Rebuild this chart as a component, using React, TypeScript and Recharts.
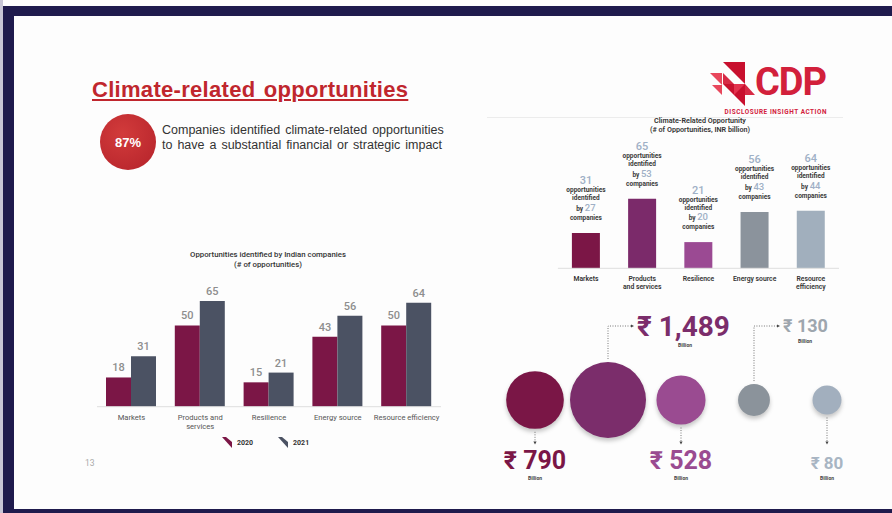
import React from 'react';
import {
  BarChart,
  Bar,
  XAxis,
  YAxis,
  LabelList,
  Cell,
  Legend,
  ScatterChart,
  Scatter,
  ZAxis,
} from 'recharts';

// ---------- data ----------
const categories = ['Markets', 'Products and services', 'Resilience', 'Energy source', 'Resource efficiency'];
const opportunities2020 = [18, 50, 15, 43, 50];
const opportunities2021 = [31, 65, 21, 56, 64];
const companies2021 = [27, 53, 20, 43, 44];
const valueINRBillion = [790, 1489, 528, 130, 80];
const seriesNames = ['2020', '2021'];
const leftTickLabels = [['Markets'], ['Products and', 'services'], ['Resilience'], ['Energy source'], ['Resource efficiency']];
const rightTickLabels = [['Markets'], ['Products', 'and services'], ['Resilience'], ['Energy source'], ['Resource', 'efficiency']];

// ---------- styles ----------
const FONT = 'Roboto, "Noto Sans", sans-serif';
const NAVY = '#1f1b4d';
const seriesColors = ['#7b1646', '#4b5263'];
const rightBarColors = ['#7b1646', '#7b2a6a', '#9b4a93', '#8b939c', '#a1afbd'];
const bubbleColors = ['#7a1646', '#7b2d6b', '#9a4b91', '#8b939b', '#a2afbe'];
const bubbleTextColors = ['#7a1646', '#7b2d6b', '#9a4b91', '#9ea6ae', '#a8b5c3'];
const bubbleLabelSide = ['below', 'above', 'below', 'above', 'below'];
const bubbleLabelFont = [25, 28, 25, 18, 17];

const leftData = categories.map((c, i) => ({ name: c, y2020: opportunities2020[i], y2021: opportunities2021[i] }));
const rightData = categories.map((c, i) => ({ name: c, companies: companies2021[i], opportunities: opportunities2021[i] }));
const bubbleData = categories.map((c, i) => ({ name: c, value: valueINRBillion[i] }));

const LeftTick = (props: any) => {
  const { x, y, payload } = props;
  const i = categories.indexOf(payload.value);
  const lines = leftTickLabels[i] || [String(payload.value)];
  return (
    <g>
      {lines.map((l, k) => (
        <text key={k} x={x} y={y + 5 + k * 9} textAnchor="middle" fontSize={7.6} fill="#555" fontFamily={FONT}>
          {l}
        </text>
      ))}
    </g>
  );
};

const RightTick = (props: any) => {
  const { x, y, payload } = props;
  const i = categories.indexOf(payload.value);
  const lines = rightTickLabels[i] || [String(payload.value)];
  return (
    <g>
      {lines.map((l, k) => (
        <text key={k} x={x} y={y + 5 + k * 8} textAnchor="middle" fontSize={6.8} fontWeight={600} fill="#333" fontFamily={FONT}>
          {l}
        </text>
      ))}
    </g>
  );
};

const RightLabel = (props: any) => {
  const vb = props.viewBox || {};
  const x = vb.x ?? props.x;
  const y = vb.y ?? props.y;
  const width = vb.width ?? props.width;
  const i = props.index;
  const cx = x + width / 2;
  const small = { fontSize: 6.5, fontWeight: 700, fill: '#3a3a3a' } as any;
  return (
    <g fontFamily={FONT} textAnchor="middle">
      <text x={cx} y={y - 48.5} fontSize={11} fontWeight={500} fill="#9fb0c6">{opportunities2021[i]}</text>
      <text x={cx} y={y - 40.5} {...small}>opportunities</text>
      <text x={cx} y={y - 32.5} {...small}>identified</text>
      <text x={cx} y={y - 22} {...small}>
        by <tspan fontSize={9.5} fontWeight={500} fill="#9fb0c6">{companies2021[i]}</tspan>
      </text>
      <text x={cx} y={y - 13} {...small}>companies</text>
    </g>
  );
};

const LeftLegend = (props: any) => {
  const payload = props.payload || [];
  return (
    <div style={{ display: 'flex', alignItems: 'center', fontFamily: FONT }}>
      {payload.map((p: any, k: number) => (
        <div key={k} style={{ display: 'flex', alignItems: 'center', marginRight: 25 }}>
          <svg width={10} height={11} style={{ display: 'block' }}>
            <polygon points="0,0 4,0 10,5 10,11" fill={p.color} />
          </svg>
          <span style={{ marginLeft: 5, fontSize: 7, fontWeight: 700, color: '#333' }}>{p.value}</span>
        </div>
      ))}
    </div>
  );
};

const Bubble = (props: any) => {
  const { cx, cy, payload } = props;
  const i = categories.indexOf(payload.name);
  const r = props.width ? props.width / 2 : Math.sqrt((props.size || 100) / Math.PI);
  const fs = bubbleLabelFont[i];
  const label = `₹ ${valueINRBillion[i].toLocaleString('en-IN')}`;
  const dotted = { stroke: '#555', strokeWidth: 0.8, strokeDasharray: '1 1.5', fill: 'none' } as any;
  let ann;
  if (bubbleLabelSide[i] === 'below') {
    ann = (
      <g>
        <line x1={cx} y1={cy + r + 3} x2={cx} y2={cy + 42} {...dotted} />
        <polygon points={`${cx - 1.6},${cy + 41.5} ${cx + 1.6},${cy + 41.5} ${cx},${cy + 44.5}`} fill="#444" />
        <text x={cx} y={cy + 69} textAnchor="middle" fontSize={fs} fontWeight={700} fill={bubbleTextColors[i]} fontFamily={FONT}>
          {label}
        </text>
        <text x={cx} y={cy + 80} textAnchor="middle" fontSize={5} fontWeight={700} fill="#444" fontFamily={FONT}>Billion</text>
      </g>
    );
  } else {
    const ly = cy - 74;
    const tx = cx + 29;
    const w = label.length * fs * 0.49;
    ann = (
      <g>
        <polyline points={`${cx},${cy - r - 3} ${cx},${ly} ${cx + 23},${ly}`} {...dotted} />
        <polygon points={`${cx + 23},${ly - 1.6} ${cx + 23},${ly + 1.6} ${cx + 26},${ly}`} fill="#444" />
        <text x={tx} y={ly + fs * 0.36} textAnchor="start" fontSize={fs} fontWeight={700} fill={bubbleTextColors[i]} fontFamily={FONT}>
          {label}
        </text>
        <text x={tx + w / 2} y={ly + fs * 0.36 + 11} textAnchor="middle" fontSize={5} fontWeight={700} fill="#444" fontFamily={FONT}>Billion</text>
      </g>
    );
  }
  return (
    <g>
      <circle cx={cx} cy={cy} r={r} fill={bubbleColors[i]} style={{ filter: 'drop-shadow(0px 3px 2px rgba(0,0,0,0.22))' }} />
      {ann}
    </g>
  );
};

const abs = (s: any) => ({ position: 'absolute', ...s } as React.CSSProperties);

export default function App() {
  return (
    <div style={abs({ left: 0, top: 0, width: 892, height: 513, background: '#fdfdfd', overflow: 'hidden', fontFamily: FONT })}>
      {/* frame */}
      <div style={abs({ left: 0, top: 0, width: 3, height: 513, background: '#c8c6d6' })} />
      <div style={abs({ left: 3, top: 6, width: 889, height: 10, background: NAVY })} />
      <div style={abs({ left: 3, top: 6, width: 11, height: 507, background: NAVY })} />
      <div style={abs({ left: 3, top: 509, width: 889, height: 4, background: NAVY })} />

      {/* slide title */}
      <div style={abs({ left: 92, top: 79, fontFamily: '"Liberation Sans", Arial, sans-serif', fontSize: 22, lineHeight: '22px', fontWeight: 700, color: '#c0262d', textDecoration: 'underline', whiteSpace: 'nowrap', letterSpacing: 0.3, wordSpacing: 2 })}>
        Climate-related opportunities
      </div>

      {/* 87% badge */}
      <div style={abs({ left: 100, top: 114, width: 56, height: 56, borderRadius: '50%', background: 'radial-gradient(circle at 40% 35%, #d23b3b, #b4222a)', display: 'flex', alignItems: 'center', justifyContent: 'center', color: '#fff', fontFamily: '"Liberation Sans", Arial, sans-serif', fontWeight: 700, fontSize: 13 })}>
        87%
      </div>
      <div style={abs({ left: 162, top: 122.5, fontFamily: '"Liberation Sans", Arial, sans-serif', fontSize: 12.5, lineHeight: '15.5px', color: '#333', wordSpacing: 1.5, whiteSpace: 'nowrap' })}>
        Companies identified climate-related opportunities
        <br />
        to have a substantial financial or strategic impact
      </div>

      {/* left chart title */}
      <div style={abs({ left: 168, top: 250, width: 200, textAlign: 'center', fontSize: 7.8, lineHeight: '10px', fontWeight: 500, color: '#333' })}>
        Opportunities identified by Indian companies
        <br />
        (# of opportunities)
      </div>

      {/* left chart */}
      <div style={abs({ left: 80, top: 240, width: 380, height: 230 })}>
        <BarChart width={380} height={230} data={leftData} margin={{ top: 53, right: 19, left: 17, bottom: 0 }} barGap={0} barCategoryGap={9}>
          <XAxis dataKey="name" axisLine={{ stroke: '#dedede' }} tickLine={false} interval={0} tick={<LeftTick />} height={63.3} />
          <YAxis hide domain={[0, 70]} />
          <Legend verticalAlign="middle" align="center" content={<LeftLegend />} wrapperStyle={{ left: 142, top: 197, width: 'auto' }} />
          <Bar dataKey="y2020" name={seriesNames[0]} fill={seriesColors[0]} isAnimationActive={false}>
            <LabelList dataKey="y2020" position="top" offset={6} fontSize={11} fontWeight={500} fill="#8e8e8e" fontFamily={FONT} />
          </Bar>
          <Bar dataKey="y2021" name={seriesNames[1]} fill={seriesColors[1]} isAnimationActive={false}>
            <LabelList dataKey="y2021" position="top" offset={6} fontSize={11} fontWeight={500} fill="#8e8e8e" fontFamily={FONT} />
          </Bar>
        </BarChart>
      </div>

      <div style={abs({ left: 85, top: 458, fontSize: 8.5, color: '#aaa' })}>13</div>

      {/* CDP logo */}
      <svg style={abs({ left: 700, top: 56, width: 140, height: 64 })} width={140} height={64}>
        <polygon points="23,6 45,6 45,28" fill="#c8102e" />
        <polygon points="10,17 22,17 22,29" fill="#e8475c" />
        <polygon points="23,17 34,28 23,28" fill="#d72a45" />
        <polygon points="23,28 45,28 45,50 " fill="#c8102e" />
        <polygon points="12,29 22,29 22,39" fill="#e8475c" />
        <polygon points="34,28 45,28 34,39" fill="#e2334e" />
        <polygon points="45,28 55,39 45,39" fill="#d72a45" />
        <text x={55} y={39} fontSize={38} fontWeight={700} fill="#d2203b" fontFamily={FONT} letterSpacing={-1}>CDP</text>
        <text x={127} y={58} textAnchor="end" fontSize={6.4} fontWeight={700} fill="#d2203b" fontFamily={FONT} letterSpacing={0.55}>DISCLOSURE INSIGHT ACTION</text>
      </svg>

      {/* right separator + title */}
      <div style={abs({ left: 487, top: 116.5, width: 356, height: 1, background: '#ececec' })} />
      <div style={abs({ left: 600, top: 116, width: 200, textAlign: 'center', fontSize: 7.2, lineHeight: '9px', fontWeight: 600, color: '#333' })}>
        Climate-Related Opportunity
        <br />
        (# of Opportunities, INR billion)
      </div>

      {/* right bar chart */}
      <div style={abs({ left: 540, top: 110, width: 310, height: 190 })}>
        <BarChart width={310} height={190} data={rightData} margin={{ top: 79.7, right: 11, left: 17.9, bottom: 0 }} barCategoryGap={14}>
          <XAxis dataKey="name" axisLine={{ stroke: '#dedede' }} tickLine={false} interval={0} tick={<RightTick />} height={31.7} />
          <YAxis hide domain={[0, 60]} />
          <Bar dataKey="companies" isAnimationActive={false}>
            {rightData.map((d, i) => (
              <Cell key={d.name} fill={rightBarColors[i]} />
            ))}
            <LabelList dataKey="companies" content={<RightLabel />} />
          </Bar>
        </BarChart>
      </div>

      {/* bubbles */}
      <div style={abs({ left: 480, top: 300, width: 400, height: 200 })}>
        <ScatterChart width={400} height={200} margin={{ top: 0, right: 16.5, left: 18.5, bottom: 0 }}>
          <XAxis dataKey="name" type="category" hide />
          <YAxis type="number" dataKey={() => 0} domain={[-1, 1]} hide />
          <ZAxis type="number" dataKey="value" domain={[80, 1489]} range={[660, 4536]} />
          <Scatter data={bubbleData} shape={(p: any) => <Bubble {...p} />} isAnimationActive={false} />
        </ScatterChart>
      </div>
    </div>
  );
}
